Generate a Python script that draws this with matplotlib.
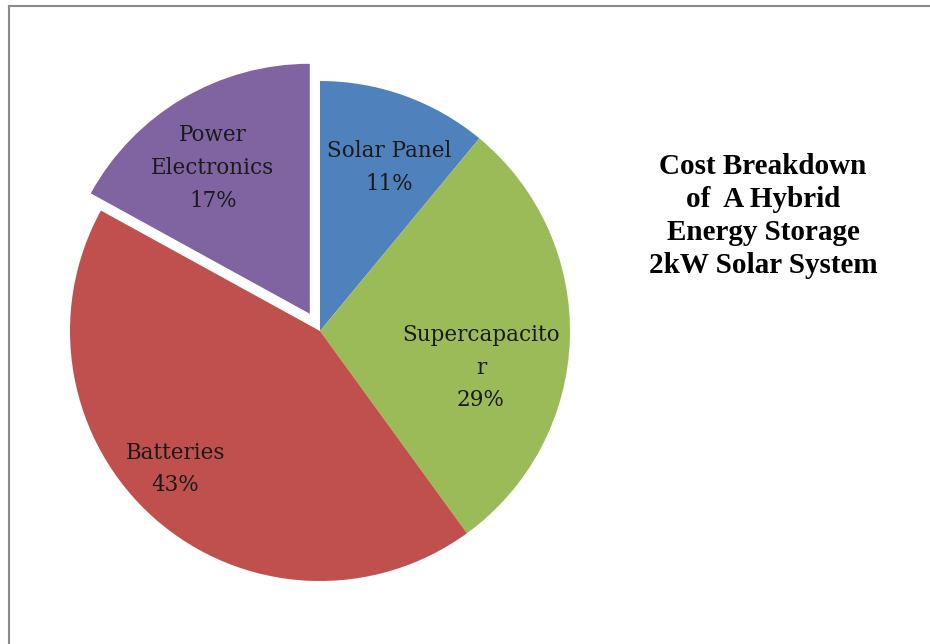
import numpy as np
import matplotlib.pyplot as plt

# Chart data
categories = ["Solar Panel", "Supercapacito\nr", "Batteries", "Power\nElectronics"]
shares = [11, 29, 43, 17]
colors = ["#4f81bd", "#9bbb59", "#c0504d", "#8064a2"]
explode = [0, 0, 0, 20]  # pie explode is in data units here (px)

# label placement (fraction of radius, angle tweak in degrees)
label_dist = [0.71, 0.66, 0.80, 0.70]
label_rot = [-3, -11, -5, 3]

W, H = 930, 644
fig = plt.figure(figsize=(W / 100, H / 100), dpi=100)
ax = fig.add_axes([0, 0, 1, 1])

cx, cy, r = 320, H - 331, 250
wedges, _ = ax.pie(shares, colors=colors, explode=explode, startangle=90,
                   counterclock=False, center=(cx, cy), radius=r,
                   wedgeprops=dict(linewidth=0))

for i, w in enumerate(wedges):
    mid = np.deg2rad((w.theta1 + w.theta2) / 2 + label_rot[i])
    wx, wy = w.center
    x = wx + label_dist[i] * r * np.cos(mid)
    y = wy + label_dist[i] * r * np.sin(mid)
    ax.text(x, y, "%s\n%d%%" % (categories[i], shares[i]), ha="center", va="center",
            fontsize=15.5, family="DejaVu Serif", color="#1a1a1a", linespacing=1.63)

ax.text(763, H - 216, "Cost Breakdown\nof  A Hybrid\nEnergy Storage\n2kW Solar System",
        ha="center", va="center", fontsize=21, fontweight="bold",
        family="Liberation Serif", linespacing=1.29)

# frame lines (top and left)
ax.plot([9, W], [H - 6, H - 6], color="#8a8a8a", lw=1.5)
ax.plot([9, 9], [0, H - 6], color="#8a8a8a", lw=1.5)

ax.set_xlim(0, W)
ax.set_ylim(0, H)
ax.set_aspect("equal")
ax.axis("off")

fig.savefig("out.png", dpi=100)
